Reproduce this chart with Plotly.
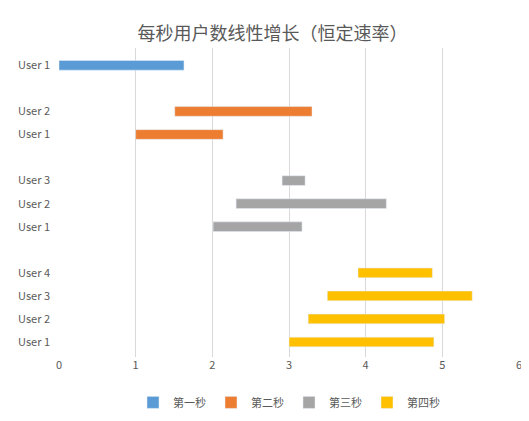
import plotly.graph_objects as go

series = ["第一秒", "第二秒", "第三秒", "第四秒"]
colors = ["#5B9BD5", "#ED7D31", "#A5A5A5", "#FFC000"]
labels = [["User 1"], ["User 2", "User 1"], ["User 3", "User 2", "User 1"],
          ["User 4", "User 3", "User 2", "User 1"]]
starts = [[0.0], [1.51, 1.0], [2.91, 2.31, 2.01], [3.90, 3.50, 3.25, 3.0]]
ends = [[1.63], [3.30, 2.14], [3.21, 4.27, 3.17], [4.87, 5.39, 5.03, 4.89]]
rows = [[12], [10, 9], [7, 6, 5], [3, 2, 1, 0]]

fig = go.Figure()
tv, tt = [], []
for s, c, lab, st, en, r in zip(series, colors, labels, starts, ends, rows):
    fig.add_trace(go.Bar(name=s, orientation="h", y=r, base=st,
                         x=[e - b for e, b in zip(en, st)],
                         marker=dict(color=c), width=0.42))
    tv += r
    tt += lab

fig.update_layout(
    width=529, height=421, barmode="overlay",
    paper_bgcolor="white", plot_bgcolor="white",
    font=dict(family="Noto Sans CJK SC, sans-serif", color="#595959", size=11),
    title=dict(text="每秒用户数线性增长（恒定速率）", x=0.5, y=0.955, xanchor="center",
               font=dict(size=18, color="#595959")),
    margin=dict(l=51, r=18, t=40, b=61),
    xaxis=dict(range=[0, 6], dtick=1, showgrid=True, gridcolor="#D9D9D9",
               zeroline=False, showline=False, ticks="", tickfont=dict(size=11),
               automargin=False),
    yaxis=dict(range=[-0.65, 12.75], tickvals=tv, ticktext=tt, showgrid=False,
               zeroline=False, ticks="", ticklabelstandoff=8, automargin=False),
    legend=dict(orientation="h", x=0.5, xanchor="center", y=-0.1, yanchor="top",
                font=dict(size=11), traceorder="normal", itemwidth=30),
)
fig.write_html("out.html")
